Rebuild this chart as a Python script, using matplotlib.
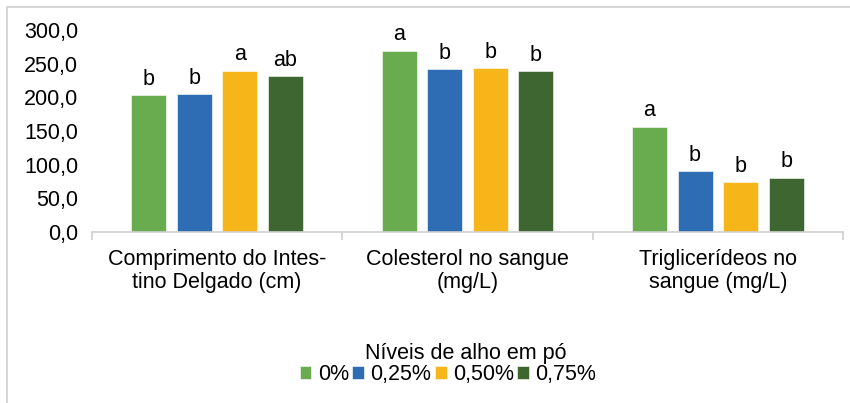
import numpy as np
import matplotlib.pyplot as plt
from matplotlib.patches import Rectangle

plt.rcParams['font.family'] = ['Liberation Sans', 'DejaVu Sans']

categories = ['Comprimento do Intes-\ntino Delgado (cm)',
              'Colesterol no sangue\n(mg/L)',
              'Triglicerídeos no\nsangue (mg/L)']
levels = ['0%', '0,25%', '0,50%', '0,75%']
values = [
    [203.5, 269.0, 156.4],   # 0%
    [205.0, 241.6, 90.0],    # 0,25%
    [239.6, 243.0, 74.3],    # 0,50%
    [231.7, 238.6, 80.7],    # 0,75%
]
letters = [
    ['b', 'a', 'a'],
    ['b', 'b', 'b'],
    ['a', 'b', 'b'],
    ['ab', 'b', 'b'],
]
colors = ['#69ab4f', '#2e6db4', '#f6b61a', '#3d6630']
fs = 15.5

fig = plt.figure(figsize=(8.5, 4.03), dpi=100)
ax = fig.add_axes([92 / 850, 1 - 232 / 403, (843 - 92) / 850, (232 - 30) / 403])

# light grey frame round the whole chart
fig.patches.append(Rectangle((7 / 850, -0.01), 1.0, 1 - 7 / 403 + 0.01,
                             transform=fig.transFigure, fill=False,
                             edgecolor='#d0d0d0', linewidth=1.2))

x = np.arange(len(categories))
width = 0.14
step = 0.182
for i, (lvl, vals) in enumerate(zip(levels, values)):
    pos = x + (i - 1.5) * step
    ax.bar(pos, vals, width, color=colors[i], label=lvl,
           edgecolor='white', linewidth=0.4)
    for p, v, t in zip(pos, vals, letters[i]):
        ax.text(p, v + 8, t, ha='center', va='bottom', fontsize=fs)

ax.set_xlim(-0.5, len(categories) - 0.5)
ax.set_ylim(0, 300)
ax.set_yticks(np.arange(0, 301, 50))
ax.set_yticklabels([f'{v:.1f}'.replace('.', ',') for v in np.arange(0, 301, 50)],
                   fontsize=fs)
ax.tick_params(axis='y', length=0, pad=10)

ax.set_xticks(x)
ax.set_xticklabels(categories, fontsize=fs, linespacing=1.12)
ax.tick_params(axis='x', length=0, pad=12)
ax.set_xticks(np.arange(-0.5, len(categories)), minor=True)
ax.tick_params(axis='x', which='minor', length=6, color='#d0d0d0', width=1.2)

for s in ['top', 'right', 'left']:
    ax.spines[s].set_visible(False)
ax.spines['bottom'].set_color('#d0d0d0')
ax.spines['bottom'].set_linewidth(1.2)

leg = fig.legend(loc='center', bbox_to_anchor=(448 / 850, 1 - 364 / 403),
                 ncol=4, frameon=False, fontsize=fs,
                 title='Níveis de alho em pó', title_fontsize=fs,
                 handlelength=0.55, handleheight=0.55, handletextpad=0.3,
                 columnspacing=0.15, borderpad=0, labelspacing=0)
leg.get_title().set_position((18, 0))

fig.savefig('out.png', dpi=100)
